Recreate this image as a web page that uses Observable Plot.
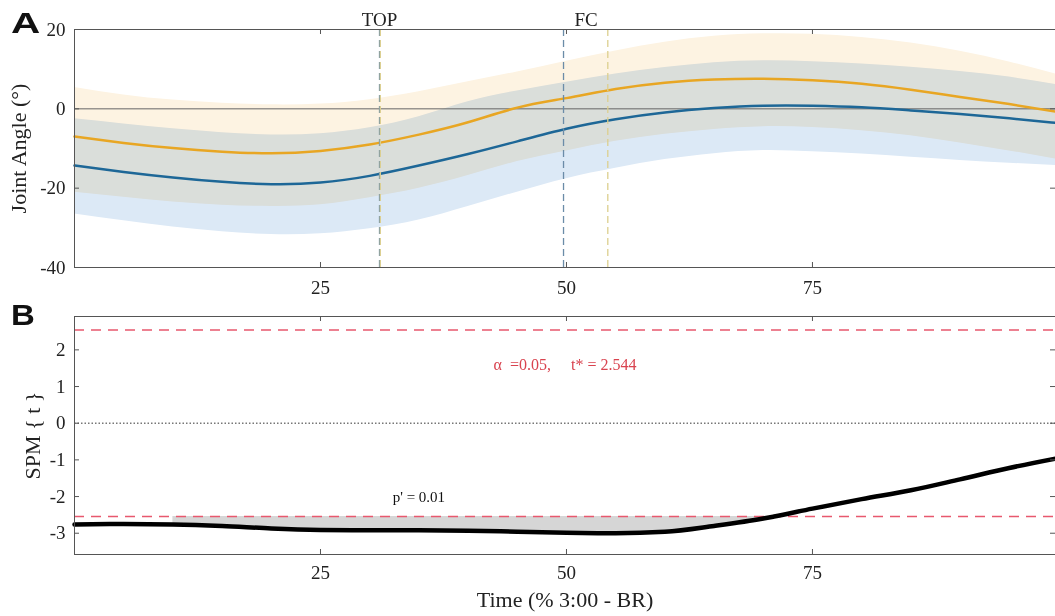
<!DOCTYPE html>
<html>
<head>
<meta charset="utf-8">
<script src="https://cdn.jsdelivr.net/npm/d3@7"></script>
<script src="https://cdn.jsdelivr.net/npm/@observablehq/plot@0.6"></script>
<style>
  html, body { margin: 0; padding: 0; background: #fff; overflow: hidden; }
  #wrap { position: relative; width: 1055px; height: 616px; }
  .panel { position: absolute; left: 0; }
  .letter { position: absolute; font-family: "Liberation Sans", Arial, sans-serif; font-weight: bold; font-size: 30px; color: #111; line-height: 1; transform-origin: left top; z-index: 2; }
</style>
</head>
<body>
<div id="wrap">
  <div id="pa" class="panel" style="top:0px;"></div>
  <div id="pb" class="panel" style="top:300px;"></div>
  <div class="letter" style="left:11px; top:8px; transform: scaleX(1.35);">A</div>
  <div class="letter" style="left:11px; top:300px; transform: scaleX(1.1);">B</div>
</div>
<script>
// ---------- Data ----------
const time = [0,5,10,15,20,25,30,35,40,45,50,55,60,65,70,75,80,85,90,95,100];
const orangeMean = [-7.0,-8.6,-9.9,-10.8,-11.2,-10.6,-9.0,-6.5,-3.4,0.3,2.7,5.0,6.6,7.4,7.6,7.2,6.3,4.8,3.0,1.2,-0.8];
const orangeLo   = [-21.0,-22.3,-23.5,-24.3,-24.6,-24.2,-22.4,-20.0,-16.8,-13.3,-10.6,-8.2,-6.4,-5.2,-4.5,-4.7,-5.5,-6.8,-8.6,-10.6,-12.8];
const orangeHi   = [5.4,3.5,2.2,1.4,1.0,1.2,2.3,4.3,6.8,9.3,12.0,14.6,16.8,18.3,18.9,18.8,18.0,16.6,14.5,11.8,8.6];
const blueMean   = [-14.3,-15.9,-17.3,-18.4,-19.0,-18.6,-16.9,-14.3,-11.4,-8.2,-5.0,-2.6,-0.9,0.2,0.8,0.8,0.4,-0.4,-1.3,-2.4,-3.6];
const blueLo     = [-26.5,-28.2,-29.8,-31.0,-31.7,-31.5,-30.2,-28.0,-24.6,-21.0,-17.6,-15.0,-12.8,-11.3,-10.5,-10.8,-11.4,-12.2,-13.0,-13.7,-14.3];
const blueHi     = [-2.5,-3.8,-5.0,-6.0,-6.6,-6.3,-4.8,-2.0,1.8,4.5,6.7,8.8,10.4,11.6,12.1,11.9,11.3,10.5,9.4,8.0,6.0];

const events = [
  {name: "TOP", x: 31.0, group: "blue"},
  {name: "TOP", x: 31.08, group: "orange"},
  {name: "FC",  x: 49.7, group: "blue"},
  {name: "FC",  x: 54.2, group: "orange"}
];
const eventLabels = [{label: "TOP", x: 31.0}, {label: "FC", x: 52.0}];

const spmTime = [0,5,10,15,20,25,30,35,40,45,50,55,60,65,70,71.1,75,80,85,90,95,100];
const spmT    = [-2.76,-2.75,-2.76,-2.80,-2.87,-2.91,-2.92,-2.92,-2.93,-2.96,-2.99,-3.0,-2.96,-2.80,-2.60,-2.544,-2.33,-2.07,-1.83,-1.53,-1.22,-0.95];
const tCrit = 2.544;
const clusterStart = 10, clusterEnd = 71.1;
const pLabel = {x: 35, text: "p' = 0.01"};
const alphaLabel = "\u03b1  =0.05,\u00a0\u00a0\u00a0\u00a0\u00a0t* = 2.544";

const xTicks = [25, 50, 75];
const yTicksA = [20, 0, -20, -40];
const yTicksB = [2, 1, 0, -1, -2, -3];

// ---------- Tables ----------
const dataA = time.map((t, i) => ({
  x: t, om: orangeMean[i], olo: orangeLo[i], ohi: orangeHi[i],
  bm: blueMean[i], blo: blueLo[i], bhi: blueHi[i]
}));
const dataB = spmTime.map((t, i) => ({x: t, t: spmT[i]}));
const clusterB = dataB.filter(d => d.x >= clusterStart && d.x <= clusterEnd);

const W = 1055, ML = 74, MR = 0;
const xDomain = [0, 99.7];
const curveA = "natural";
const curveB = "monotone-x";
const frameColor = "#555";
const font = "'Liberation Serif', 'Times New Roman', serif";
const fmt = d => String(d);

// ---------- Panel A ----------
const HA = 300, MTA = 29, MBA = 33;
const fhA = HA - MTA - MBA, fw = W - ML - MR;
const plotA = Plot.plot({
  width: W, height: HA, marginTop: MTA, marginBottom: MBA, marginLeft: ML, marginRight: MR,
  x: {domain: xDomain}, y: {domain: [-40, 20]},
  style: {fontFamily: font, fontSize: "19px", color: "#222", background: "transparent", overflow: "visible"},
  marks: [
    Plot.areaY(dataA, {x: "x", y1: "blo", y2: "bhi", fill: "#DCE9F6", curve: curveA}),
    Plot.areaY(dataA, {x: "x", y1: "olo", y2: "ohi", fill: "#FDF3E2", curve: curveA, mixBlendMode: "multiply"}),
    Plot.ruleY([0], {stroke: "#666", strokeWidth: 1}),
    Plot.lineY(dataA, {x: "x", y: "om", stroke: "#E8A623", strokeWidth: 2.5, curve: curveA}),
    Plot.lineY(dataA, {x: "x", y: "bm", stroke: "#1D6797", strokeWidth: 2.5, curve: curveA}),
    Plot.ruleX(events, {x: "x", stroke: d => d.group === "blue" ? "#6B8CA8" : "#DCCF8E", strokeWidth: 1.3, strokeDasharray: "7,4"}),
    Plot.text(eventLabels, {x: "x", text: "label", frameAnchor: "top", lineAnchor: "bottom", dy: -4, fontSize: 19, fill: "#222"}),
    Plot.frame({anchor: "top", stroke: frameColor}),
    Plot.frame({anchor: "bottom", stroke: frameColor}),
    Plot.frame({anchor: "left", stroke: frameColor}),
    Plot.tickX(xTicks, {x: d => d, insetTop: fhA - 5, stroke: frameColor}),
    Plot.tickX(xTicks, {x: d => d, insetBottom: fhA - 5, stroke: frameColor}),
    Plot.tickY(yTicksA, {y: d => d, insetRight: fw - 5, stroke: frameColor}),
    Plot.tickY(yTicksA, {y: d => d, insetLeft: fw - 5, stroke: frameColor}),
    Plot.axisX(xTicks, {anchor: "bottom", tickSize: 0, tickPadding: 13, label: null, fontSize: 19, tickFormat: fmt}),
    Plot.axisY(yTicksA, {anchor: "left", tickSize: 0, tickPadding: 9, label: null, fontSize: 19, tickFormat: fmt}),
    Plot.text(["Joint Angle (\u00b0)"], {frameAnchor: "left", textAnchor: "middle", dx: -56, rotate: -90, fontSize: 22, fill: "#222"})
  ]
});
document.getElementById("pa").appendChild(plotA);

// ---------- Panel B ----------
const HB = 316, MTB = 16, MBB = 62;
const fhB = HB - MTB - MBB;
const plotB = Plot.plot({
  width: W, height: HB, marginTop: MTB, marginBottom: MBB, marginLeft: ML, marginRight: MR,
  x: {domain: xDomain}, y: {domain: [-3.58, 2.91]},
  style: {fontFamily: font, fontSize: "19px", color: "#222", background: "transparent", overflow: "visible"},
  marks: [
    Plot.areaY(clusterB, {x: "x", y1: () => -tCrit, y2: "t", fill: "#D6D6D6", curve: curveB}),
    Plot.ruleY([0], {stroke: "#777", strokeWidth: 1.5, strokeDasharray: "1.5,2"}),
    Plot.ruleY([tCrit, -tCrit], {stroke: "#E8586E", strokeWidth: 1.5, strokeDasharray: "10,7"}),
    Plot.lineY(dataB, {x: "x", y: "t", stroke: "#000", strokeWidth: 4.5, curve: curveB}),
    Plot.text([alphaLabel], {frameAnchor: "top", dy: 42, fontSize: 16, fill: "#D9434F"}),
    Plot.text([pLabel], {x: "x", y: () => -tCrit, text: "text", dy: -19, fontSize: 15, fill: "#111"}),
    Plot.frame({anchor: "top", stroke: frameColor}),
    Plot.frame({anchor: "bottom", stroke: frameColor}),
    Plot.frame({anchor: "left", stroke: frameColor}),
    Plot.tickX(xTicks, {x: d => d, insetTop: fhB - 5, stroke: frameColor}),
    Plot.tickX(xTicks, {x: d => d, insetBottom: fhB - 5, stroke: frameColor}),
    Plot.tickY(yTicksB, {y: d => d, insetRight: fw - 5, stroke: frameColor}),
    Plot.tickY(yTicksB, {y: d => d, insetLeft: fw - 5, stroke: frameColor}),
    Plot.axisX(xTicks, {anchor: "bottom", tickSize: 0, tickPadding: 11, label: null, fontSize: 19, tickFormat: fmt}),
    Plot.axisY(yTicksB, {anchor: "left", tickSize: 0, tickPadding: 9, label: null, fontSize: 19, tickFormat: fmt}),
    Plot.text(["SPM { t }"], {frameAnchor: "left", textAnchor: "middle", dx: -42, rotate: -90, fontSize: 22, fill: "#222"}),
    Plot.text(["Time (% 3:00 - BR)"], {frameAnchor: "bottom", dy: 52, fontSize: 22, fill: "#222"})
  ]
});
document.getElementById("pb").appendChild(plotB);
</script>
</body>
</html>
